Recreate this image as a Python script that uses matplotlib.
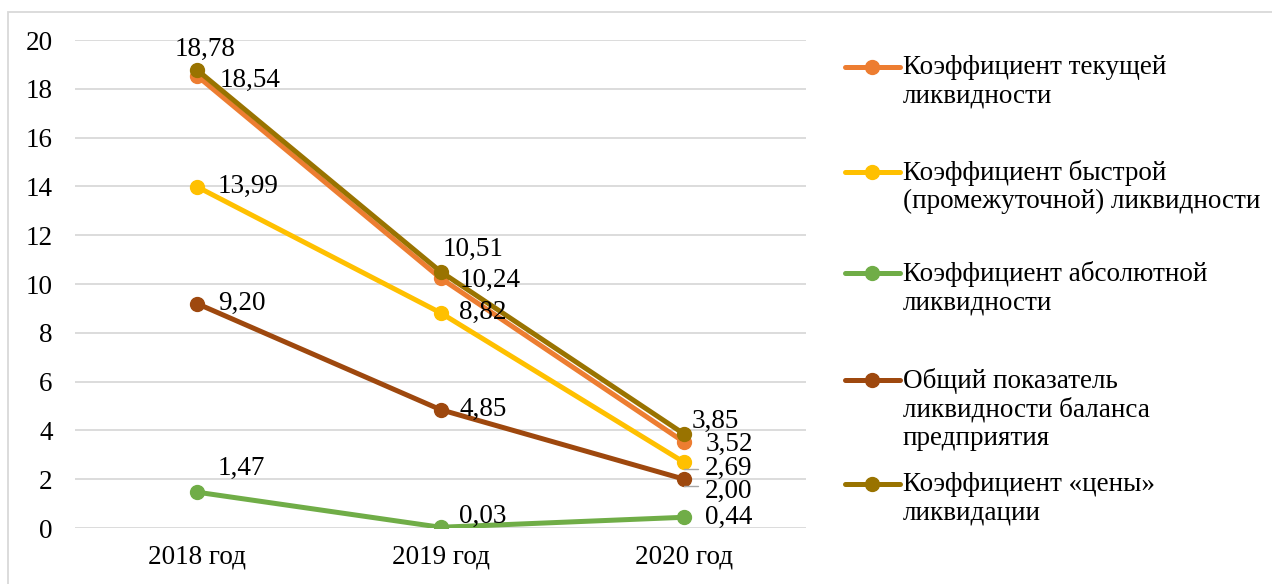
import matplotlib.pyplot as plt
from matplotlib.lines import Line2D
from matplotlib.patches import Rectangle

# ==========================================================
# Data
# ==========================================================
years = ["2018 год", "2019 год", "2020 год"]

names = [
    "Коэффициент текущей\nликвидности",
    "Коэффициент быстрой\n(промежуточной) ликвидности",
    "Коэффициент абсолютной\nликвидности",
    "Общий показатель\nликвидности баланса\nпредприятия",
    "Коэффициент «цены»\nликвидации",
]
current_ratio = [18.54, 10.24, 3.52]
quick_ratio = [13.99, 8.82, 2.69]
absolute_ratio = [1.47, 0.03, 0.44]
general_ratio = [9.20, 4.85, 2.00]
price_ratio = [18.78, 10.51, 3.85]

series = [current_ratio, quick_ratio, absolute_ratio, general_ratio, price_ratio]
colors = ["#ED7D31", "#FFC000", "#70AD47", "#9E480E", "#997300"]

# label offsets in pixels (dx, dy, ha) per series per year
offsets = [
    [(23, -5, "left"), (19, -2, "left"), (21, -2, "left")],
    [(21, 0, "left"), (19, 0, "left"), (21, -6, "left")],
    [(21, 24, "left"), (19, 11, "left"), (21, 0, "left")],
    [(21, 0, "left"), (19, 0, "left"), (21, -12, "left")],
    [(8, 20, "center"), (33, 22, "center"), (31, 13, "center")],
]

FS = 19.5
plt.rcParams["font.family"] = ["Liberation Serif", "DejaVu Serif"]
plt.rcParams["font.size"] = FS

fig = plt.figure(figsize=(12.72, 5.84), dpi=100)
W, H = 1272, 584
ax = fig.add_axes([75 / W, (H - 528) / H, (806 - 75) / W, (528 - 40) / H])

x = list(range(len(years)))
for vals, c in zip(series, colors):
    ax.plot(x, vals, color=c, lw=3.6, marker="o", ms=10, solid_capstyle="round", zorder=3)

for vals, offs in zip(series, offsets):
    for xi, v, (dx, dy, ha) in zip(x, vals, offs):
        ax.annotate(f"{v:.2f}".replace(".", ","), (xi, v), xytext=(dx * 0.72, dy * 0.72),
                    textcoords="offset points", ha=ha, va="center", fontsize=FS, zorder=4)

# small leader lines for the crowded 2020 labels
for vals in (quick_ratio, general_ratio):
    ax.annotate("", (2, vals[2]), xytext=(10, -5), textcoords="offset points",
                arrowprops=dict(arrowstyle="-", color="#A6A6A6", lw=1,
                                connectionstyle="angle,angleA=0,angleB=90,rad=0",
                                shrinkA=0, shrinkB=5))

ax.set_xlim(-0.5, 2.5)
ax.set_ylim(0, 20)
ax.set_yticks(range(0, 21, 2))
ax.set_xticks(x)
ax.set_xticklabels(years)
ax.tick_params(length=0, labelsize=FS)
ax.tick_params(axis="y", pad=16)
ax.tick_params(axis="x", pad=12)
ax.grid(axis="y", color="#D9D9D9", lw=1.3)
ax.set_axisbelow(True)
for s in ax.spines.values():
    s.set_visible(False)

# legend drawn by hand so the markers line up with the first text line
leg_y = [67, 172, 273, 380, 484]
for name, c, yy in zip(names, colors, leg_y):
    yf = (H - yy) / H
    fig.add_artist(Line2D([845 / W, 900 / W], [yf, yf], color=c, lw=3.6,
                          solid_capstyle="round", transform=fig.transFigure))
    fig.add_artist(Line2D([872 / W], [yf], color=c, marker="o", ms=10,
                          transform=fig.transFigure))
    fig.text(903 / W, (H - yy + 12) / H, name, ha="left", va="top",
             fontsize=FS, linespacing=1.17)

# outer chart border
fig.add_artist(Rectangle((8 / W, -0.05), 1.2, (H - 12) / H + 0.05, fill=False,
                         edgecolor="#D9D9D9", lw=1.3, transform=fig.transFigure))

fig.savefig("out.png", dpi=100)
